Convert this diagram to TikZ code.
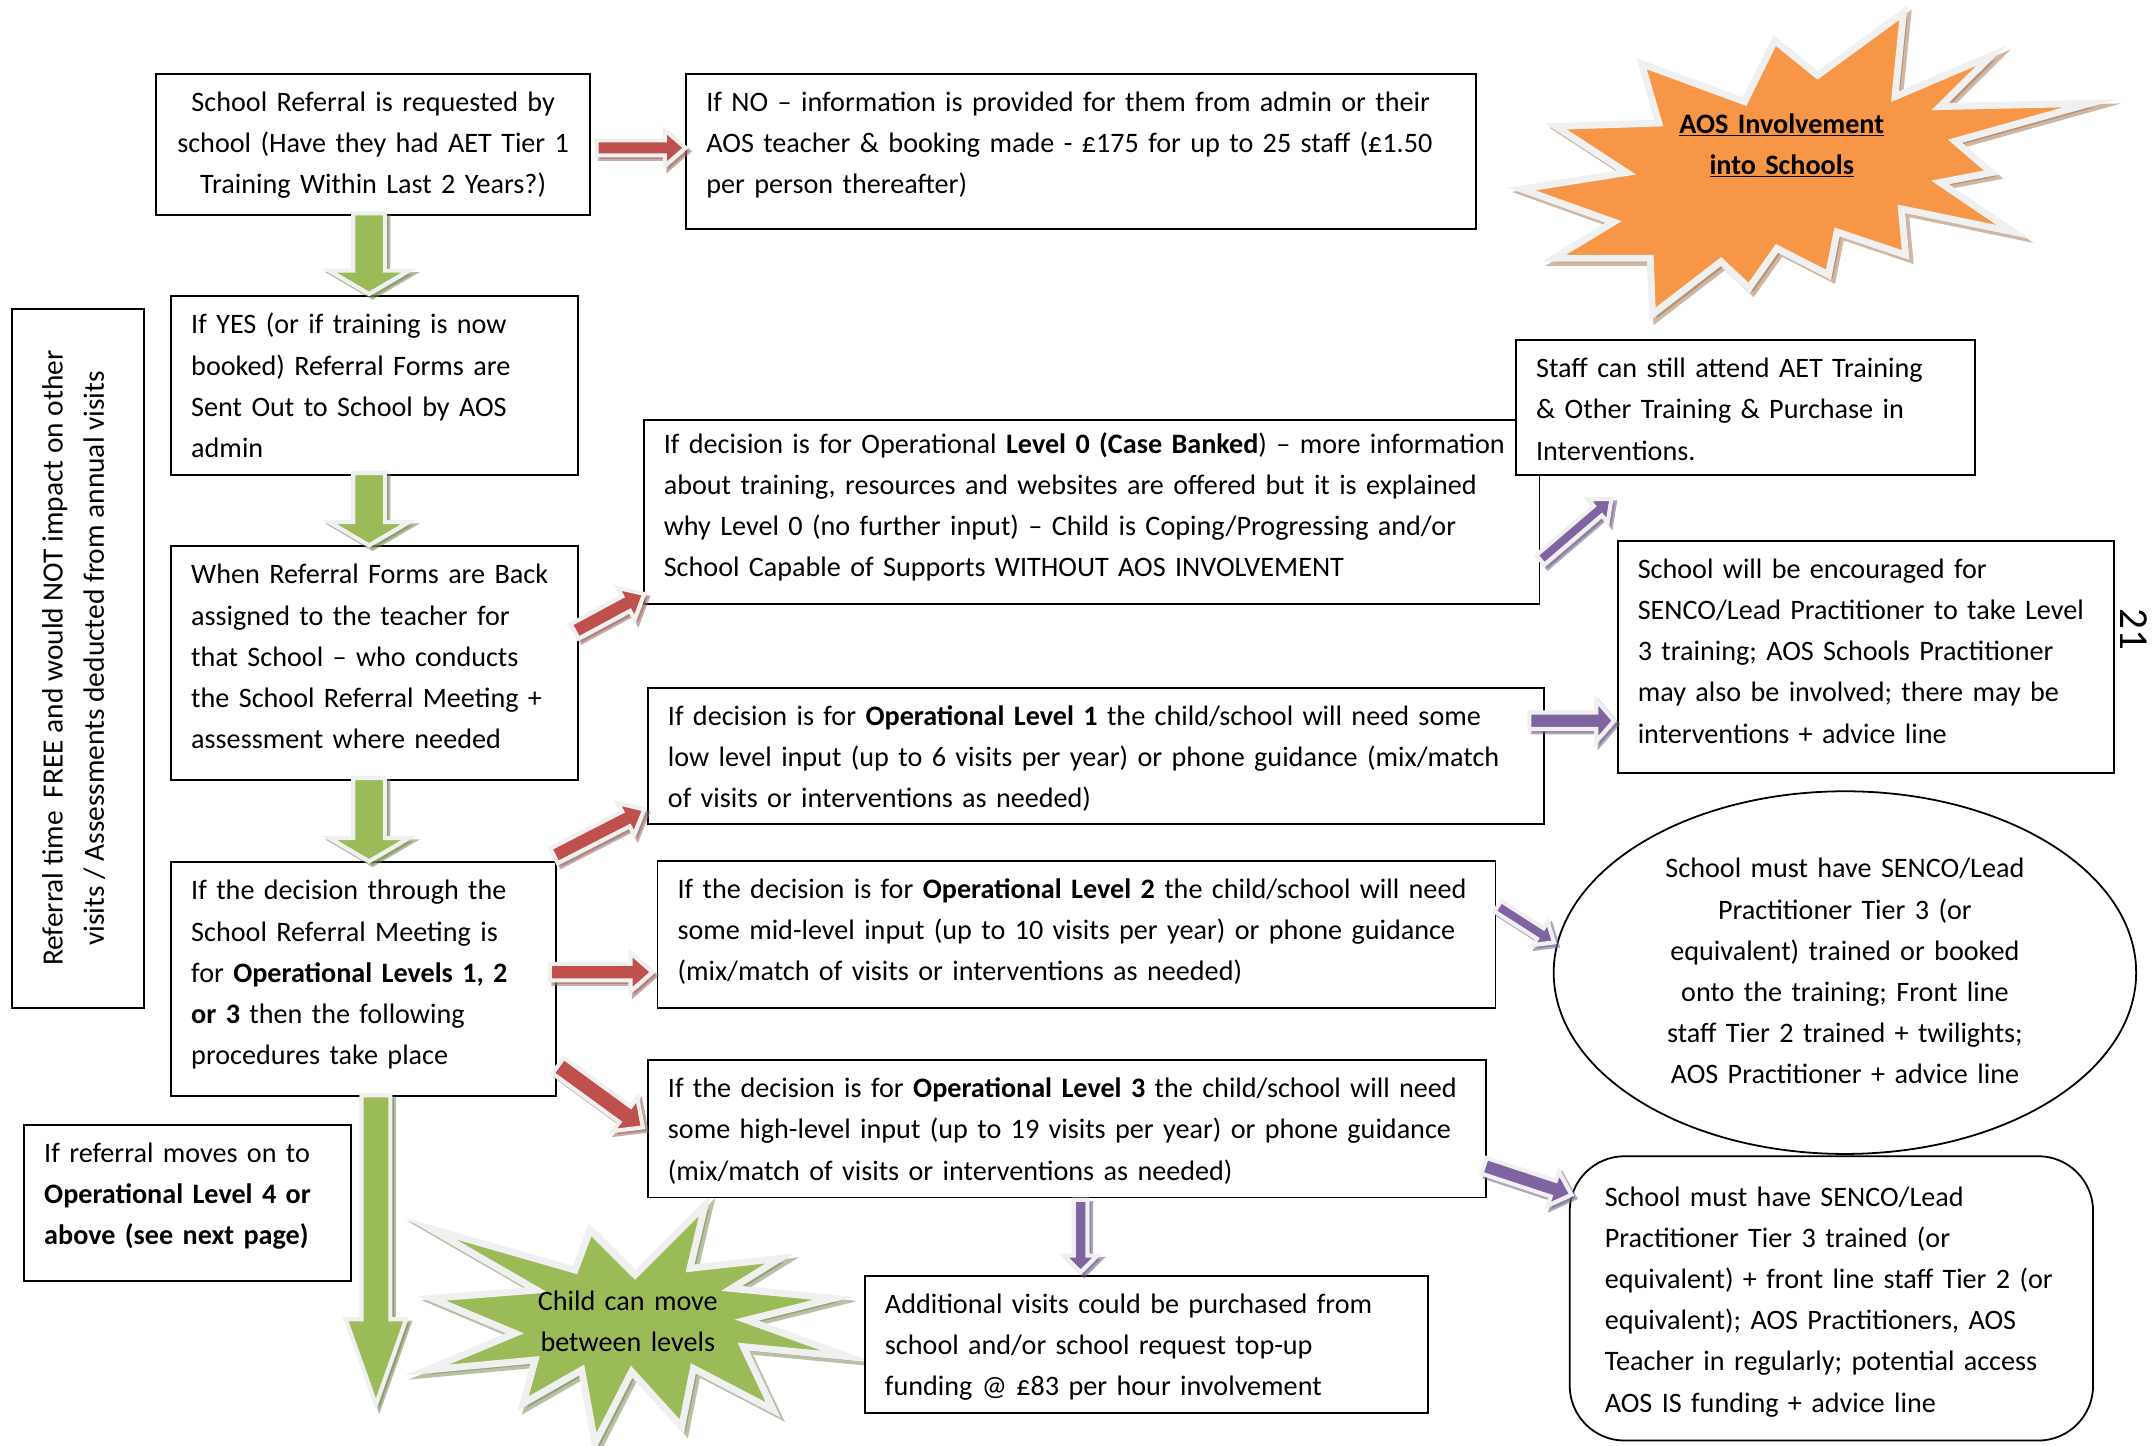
\documentclass[tikz,border=0pt]{standalone}
\usepackage{fontspec}
\setmainfont{Carlito}
\usetikzlibrary{calc,shapes.geometric}
\definecolor{aosred}{HTML}{C0504D}
\definecolor{aospurple}{HTML}{8064A2}
\definecolor{aosgreen}{HTML}{9BBB59}
\definecolor{aosorange}{HTML}{F79646}
\definecolor{rim}{HTML}{F0F0F0}
\definecolor{redshade}{HTML}{9A6660}
\definecolor{purpleshade}{HTML}{6E5E88}
\definecolor{greenshade}{HTML}{72844E}
\definecolor{orangeshade}{HTML}{A0704A}
% #1 fill, #2 shadow, #3 start, #4 end, #5 half shaft, #6 half head, #7 head length
\newcommand{\blockarrow}[7]{%
  \coordinate (tmpH) at ($(#4)!#7!(#3)$);
  \path[fill=#2,draw=#2,line width=3pt,opacity=0.55,transform canvas={shift={(2.5,2.5)}}]
    ($(#3)!#5!90:(#4)$) -- ($(tmpH)!#5!-90:(#3)$) -- ($(tmpH)!#6!-90:(#3)$) -- (#4)
    -- ($(tmpH)!#6!90:(#3)$) -- ($(tmpH)!#5!90:(#3)$) -- ($(#3)!#5!-90:(#4)$) -- cycle;
  \path[fill=#1,draw=rim,line width=3pt]
    ($(#3)!#5!90:(#4)$) -- ($(tmpH)!#5!-90:(#3)$) -- ($(tmpH)!#6!-90:(#3)$) -- (#4)
    -- ($(tmpH)!#6!90:(#3)$) -- ($(tmpH)!#5!90:(#3)$) -- ($(#3)!#5!-90:(#4)$) -- cycle;
}
\def\orangestar{(1107.6,137.6) -- (1184.1,125.6) -- (1132.6,92) -- (1207.5,89.6) -- (1195.0,46.4) -- (1270.0,74) -- (1291.9,29.6) -- (1323.1,54.8) -- (1385.6,9.2) -- (1379.4,70.4) -- (1449.7,40.4) -- (1412.2,77.6) -- (1521.5,75.2) -- (1423.1,102.8) -- (1449.7,125.6) -- (1412.2,132.8) -- (1465.3,168.8) -- (1384.1,152) -- (1387.2,185.6) -- (1337.2,168.8) -- (1331.0,200) -- (1293.5,180.8) -- (1273.2,209.6) -- (1252.8,190.4) -- (1202.9,228.8) -- (1201.3,188) -- (1131.0,188) -- (1174.7,161.6) -- cycle}
\def\greenstar{(313.0,894.2) -- (390.7,939.1) -- (314.2,945.1) -- (374.9,970.6) -- (310.6,997.3) -- (389.5,990.0) -- (380.9,1021.6) -- (423.4,997.3) -- (433.1,1050.7) -- (459.8,998.5) -- (496.2,1038.6) -- (504.7,996.1) -- (562.9,1026.4) -- (541.1,980.3) -- (617.6,987.6) -- (543.5,960.9) -- (606.6,945.1) -- (532.6,937.9) -- (567.8,916.0) -- (502.3,923.3) -- (513.2,877.2) -- (462.3,928.1) -- (429.5,895.4) -- (418.6,924.5) -- cycle}
\begin{document}
\begin{tikzpicture}[x=1pt,y=-1pt,
  every node/.style={font=\fontsize{20.5}{30}\selectfont},
  box/.style={draw=black,line width=1.3pt,fill=white,inner sep=0pt,anchor=north west},
  ltxt/.style={inner sep=0pt,align=left,anchor=base west,text width=#1},
  ctxt/.style={inner sep=0pt,align=center,anchor=base,text width=#1}]
\useasboundingbox[fill=white] (0,0) rectangle (1568,1052);

% stars
\path[fill=orangeshade,draw=orangeshade,line width=5pt,opacity=0.5,transform canvas={shift={(3,3)}}] \orangestar;
\path[fill=aosorange,draw=rim,line width=5pt] \orangestar;
\path[fill=greenshade,draw=greenshade,line width=5pt,opacity=0.5,transform canvas={shift={(3,3)}}] \greenstar;
\path[fill=aosgreen,draw=rim,line width=5pt] \greenstar;
\node[ctxt=300] (aost) at (1297,97) {\textbf{\underline{AOS Involvement}}\\\textbf{\underline{into Schools}}};
\node[ctxt=300] (movet) at (457,954) {Child can move\\between levels};

% boxes
\node[box,minimum width=316,minimum height=103] (ref) at (113,53) {};
\node[ctxt=400] (reft) at ($(ref.north)+(0,28)$) {School Referral is requested by\\school (Have they had AET Tier 1\\Training Within Last 2 Years?)};

\node[box,minimum width=575,minimum height=113] (no) at (499,53) {};
\node[ltxt=700] (not) at ($(no.north west)+(15,28)$) {If NO -- information is provided for them from admin or their\\AOS teacher \& booking made - £175 for up to 25 staff (£1.50\\per person thereafter)};

\node[box,minimum width=296,minimum height=130] (yes) at (124,215) {};
\node[ltxt=400] (yest) at ($(yes.north west)+(15,28)$) {If YES (or if training is now\\booked) Referral Forms are\\Sent Out to School by AOS\\admin};

\node[box,minimum width=296,minimum height=170] (back) at (124,397) {};
\node[ltxt=400] (backt) at ($(back.north west)+(15,28)$) {When Referral Forms are Back\\assigned to the teacher for\\that School -- who conducts\\the School Referral Meeting +\\assessment where needed};

\node[box,minimum width=280,minimum height=170] (meet) at (124,627) {};
\node[ltxt=400] (meett) at ($(meet.north west)+(15,28)$) {If the decision through the\\School Referral Meeting is\\for \textbf{Operational Levels 1, 2}\\\textbf{or 3} then the following\\procedures take place};

\node[box,minimum width=238,minimum height=114] (lfour) at (17,818) {};
\node[ltxt=400] (lfourt) at ($(lfour.north west)+(15,28)$) {If referral moves on to\\\textbf{Operational Level 4 or}\\\textbf{above (see next page)}};

\node[box,minimum width=96,minimum height=509] (side) at (8,224) {};
\node[inner sep=0pt,align=center,rotate=90,font=\fontsize{21.4}{30}\selectfont] (sidet) at ($(side.center)+(-3,0)$) {Referral time\ \ FREE and would NOT impact on other\\visits / Assessments deducted from annual visits};

\node[box,minimum width=652,minimum height=134] (lzero) at (468,305) {};
\node[ltxt=750] (lzerot) at ($(lzero.north west)+(15,25)$) {If decision is for Operational \textbf{Level 0 (Case Banked}) -- more information\\about training, resources and websites are offered but it is explained\\why Level 0 (no further input) -- Child is Coping/Progressing and/or\\School Capable of Supports WITHOUT AOS INVOLVEMENT};

\node[box,minimum width=334,minimum height=98] (staff) at (1103,247) {};
\node[ltxt=400] (stafft) at ($(staff.north west)+(15,28)$) {Staff can still attend AET Training\\\& Other Training \& Purchase in\\Interventions.};

\node[box,minimum width=361,minimum height=169] (enc) at (1177,393) {};
\node[ltxt=450] (enct) at ($(enc.north west)+(15,28)$) {School will be encouraged for\\SENCO/Lead Practitioner to take Level\\3 training; AOS Schools Practitioner\\may also be involved; there may be\\interventions + advice line};

\node[box,minimum width=652,minimum height=99] (lone) at (471,500) {};
\node[ltxt=750] (lonet) at ($(lone.north west)+(15,28)$) {If decision is for \textbf{Operational Level 1} the child/school will need some\\low level input (up to 6 visits per year) or phone guidance (mix/match\\of visits or interventions as needed)};

\node[box,minimum width=610,minimum height=107] (ltwo) at (478,626) {};
\node[ltxt=750] (ltwot) at ($(ltwo.north west)+(15,28)$) {If the decision is for \textbf{Operational Level 2} the child/school will need\\some mid-level input (up to 10 visits per year) or phone guidance\\(mix/match of visits or interventions as needed)};

\node[draw=black,ellipse,line width=1.3pt,fill=white,minimum width=424,minimum height=264,inner sep=0pt] (ell) at (1343,708) {};
\node[ctxt=420] (ellt) at (1343,639) {School must have SENCO/Lead\\Practitioner Tier 3 (or\\equivalent) trained or booked\\onto the training; Front line\\staff Tier 2 trained + twilights;\\AOS Practitioner + advice line};

\node[box,minimum width=610,minimum height=100] (lthree) at (471,771) {};
\node[ltxt=750] (lthreet) at ($(lthree.north west)+(15,28)$) {If the decision is for \textbf{Operational Level 3} the child/school will need\\some high-level input (up to 19 visits per year) or phone guidance\\(mix/match of visits or interventions as needed)};

\node[box,rounded corners=40pt,minimum width=381,minimum height=207] (rnd) at (1142,841) {};
\node[ltxt=450] (rndt) at ($(rnd.north west)+(26,37)$) {School must have SENCO/Lead\\Practitioner Tier 3 trained (or\\equivalent) + front line staff Tier 2 (or\\equivalent); AOS Practitioners, AOS\\Teacher in regularly; potential access\\AOS IS funding + advice line};

\node[box,minimum width=410,minimum height=100] (add) at (629,928) {};
\node[ltxt=500] (addt) at ($(add.north west)+(15,28)$) {Additional visits could be purchased from\\school and/or school request top-up\\funding @ £83 per hour involvement};

\node[inner sep=0pt,rotate=-90,font=\fontsize{30}{30}\selectfont] (pg) at (1553,458) {21};

% connector end points
\coordinate (a1s) at ($(ref.east)+(4,2.5)$);
\coordinate (a1e) at ($(no.west)+(0,-2.5)$);
\coordinate (a2s) at ($(ref.south)+(-3,-2)$);
\coordinate (a2e) at ($(yes.north)+(-4,-1)$);
\coordinate (a3s) at ($(yes.south)+(-4,-2)$);
\coordinate (a3e) at ($(back.north)+(-4,0)$);
\coordinate (a4s) at ($(back.south)+(-4,-2)$);
\coordinate (a4e) at ($(meet.north)+(4,0)$);
\coordinate (a5s) at ($(meet.south)+(9,-1)$);
\coordinate (a5e) at ($(meet.south)+(9,224)$);
\coordinate (a6s) at ($(back.east)+(-3,-23)$);
\coordinate (a6e) at ($(lzero.south west)+(1,-8)$);
\coordinate (a7s) at ($(meet.north east)+(-2,-4)$);
\coordinate (a7e) at ($(lone.south west)+(-2,-11)$);
\coordinate (a8s) at ($(meet.east)+(-5,-5)$);
\coordinate (a8e) at ($(ltwo.west)+(-3,27.5)$);
\coordinate (a9s) at ($(meet.east)+(1,63)$);
\coordinate (a9e) at ($(lthree.west)+(-3,-1)$);
\coordinate (p1s) at ($(lzero.east)+(0,35)$);
\coordinate (p1e) at ($(staff.south west)+(70,17)$);
\coordinate (p2s) at ($(lone.east)+(-11,-25.5)$);
\coordinate (p2e) at ($(enc.west)+(-2,46.5)$);
\coordinate (p3s) at ($(ltwo.east)+(1,-20.5)$);
\coordinate (p3e) at ($(ell.west)+(1,-22)$);
\coordinate (p4s) at ($(lthree.east)+(-2,27)$);
\coordinate (p4e) at ($(rnd.west)+(2,-75.5)$);
\coordinate (p5s) at ($(lthree.south)+(10,1)$);
\coordinate (p5e) at ($(add.north)+(-48,-2)$);

% block arrows
\blockarrow{aosred}{redshade}{a1s}{a1e}{5.5pt}{13pt}{15pt}
\blockarrow{aosgreen}{greenshade}{a2s}{a2e}{11.5pt}{29pt}{17pt}
\blockarrow{aosgreen}{greenshade}{a3s}{a3e}{11.5pt}{29pt}{17pt}
\blockarrow{aosgreen}{greenshade}{a4s}{a4e}{11.5pt}{29pt}{17pt}
\blockarrow{aosgreen}{greenshade}{a5s}{a5e}{10.5pt}{22pt}{62pt}
\blockarrow{aosred}{redshade}{a6s}{a6e}{6pt}{13pt}{15pt}
\blockarrow{aosred}{redshade}{a7s}{a7e}{6pt}{13pt}{15pt}
\blockarrow{aosred}{redshade}{a8s}{a8e}{6pt}{14pt}{16pt}
\blockarrow{aosred}{redshade}{a9s}{a9e}{7pt}{15pt}{16pt}
\blockarrow{aospurple}{purpleshade}{p1s}{p1e}{4.5pt}{11pt}{13pt}
\blockarrow{aospurple}{purpleshade}{p2s}{p2e}{6pt}{15pt}{13pt}
\blockarrow{aospurple}{purpleshade}{p3s}{p3e}{4.5pt}{10pt}{12pt}
\blockarrow{aospurple}{purpleshade}{p4s}{p4e}{6pt}{13pt}{14pt}
\blockarrow{aospurple}{purpleshade}{p5s}{p5e}{5pt}{12pt}{12pt}
\end{tikzpicture}
\end{document}
